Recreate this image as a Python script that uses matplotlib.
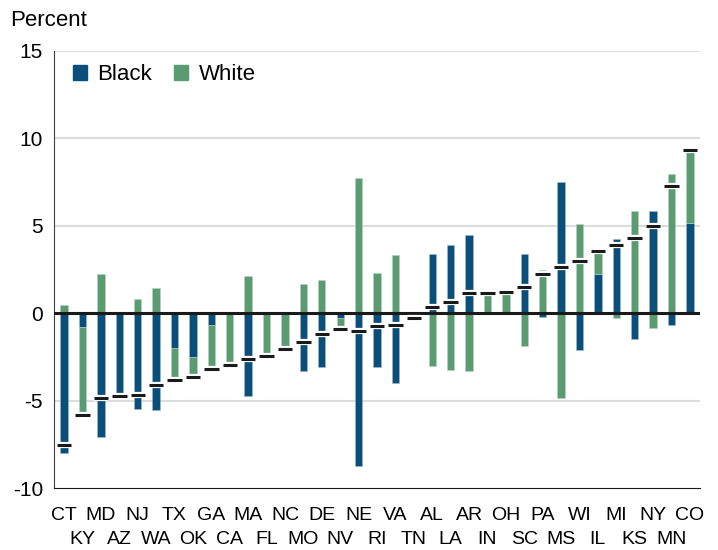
import matplotlib
matplotlib.use('Agg')
import matplotlib.pyplot as plt
import matplotlib.patheffects as pe
import matplotlib.transforms as mtransforms
from matplotlib.patches import Patch
import numpy as np

# 州名（按合计值排序）
states = ['CT', 'KY', 'MD', 'AZ', 'NJ', 'WA', 'TX', 'OK', 'GA', 'CA', 'MA', 'FL',
          'NC', 'MO', 'DE', 'NV', 'NE', 'RI', 'VA', 'TN', 'AL', 'LA', 'AR', 'IN',
          'OH', 'SC', 'PA', 'MS', 'WI', 'IL', 'MI', 'KS', 'NY', 'MN', 'CO']

black = [-8.0, -0.8, -7.07, -4.7, -5.5, -5.55, -1.98, -2.48, -0.65, 0.0, -4.74, 0.0,
         0.0, -3.3, -3.09, -0.25, -8.74, -3.05, -4.02, -0.1, 3.41, 3.9, 4.46, 0.0,
         -0.05, 3.37, -0.22, 7.52, -2.11, 2.25, 4.22, -1.5, 5.85, -0.69, 5.14]

white = [0.46, -5.05, 2.23, -0.05, 0.84, 1.45, -1.87, -1.18, -2.55, -2.95, 2.11, -2.45,
         -2.05, 1.66, 1.92, -0.68, 7.73, 2.29, 3.35, -0.2, -3.03, -3.24, -3.33, 1.15,
         1.25, -1.87, 2.45, -4.86, 5.1, 1.33, -0.29, 5.83, -0.86, 7.96, 4.21]

c_black = '#0a4f7a'
c_white = '#5b9b72'

plt.rcParams['font.family'] = ['Liberation Sans', 'DejaVu Sans']

black = np.array(black)
white = np.array(white)
total = black + white
x = np.arange(len(states))

# 同号时堆叠，异号时各自从0开始
white_bottom = np.where(np.sign(white) == np.sign(black), black, 0.0)

fig = plt.figure(figsize=(7.18, 5.5), dpi=100)
ax = fig.add_axes([54 / 718, 62 / 550, 646 / 718, 437 / 550])

for yv in [15, 10, 5, -5]:
    ax.axhline(yv, color='#dcdcdc', lw=1.5, zorder=0)

ax.bar(x, black, width=0.4, color=c_black, edgecolor='#9fb9cc', linewidth=0.4, zorder=2)
ax.bar(x, white, width=0.4, bottom=white_bottom, color=c_white, edgecolor='#b5d3c0',
       linewidth=0.4, zorder=2)

ax.axhline(0, color='#1a1a1a', lw=2.2, zorder=3)

# 合计值标记
ax.hlines(total, x - 0.39, x + 0.39, color='#1a1a1a', lw=2.2, zorder=4,
          path_effects=[pe.Stroke(linewidth=4.5, foreground='white'), pe.Normal()])

ax.set_xlim(-0.55, len(states) - 0.45)
ax.set_ylim(-10, 15)
ax.set_yticks([15, 10, 5, 0, -5, -10])
ax.set_yticklabels(['15', '10', '5', '0', '-5', '-10'], fontsize=15)
ax.tick_params(axis='y', length=0, pad=8)

# x轴标签分两行交错
ax.set_xticks(x)
ax.set_xticklabels([])
ax.tick_params(axis='x', length=0)
trans = mtransforms.blended_transform_factory(ax.transData, fig.transFigure)
for i, s in enumerate(states):
    ypix = 515 if i % 2 == 0 else 540
    ax.text(i, 1 - ypix / 550, s, transform=trans, ha='center', va='center',
            fontsize=14, clip_on=False)

for s in ['top', 'right']:
    ax.spines[s].set_visible(False)
ax.spines['left'].set_color('#404040')
ax.spines['bottom'].set_color('#1a1a1a')

handles = [Patch(color=c_black, label='Black'), Patch(color=c_white, label='White')]
ax.legend(handles=handles, loc='upper left', ncol=2, frameon=False,
          handlelength=0.65, handleheight=0.65, handletextpad=0.45, columnspacing=1.0,
          bbox_to_anchor=(0.015, 0.99), borderaxespad=0.0, prop={'size': 16})

fig.text(10 / 718, 1 - 20 / 550, 'Percent', fontsize=16, ha='left', va='center')

fig.savefig('out.png')
